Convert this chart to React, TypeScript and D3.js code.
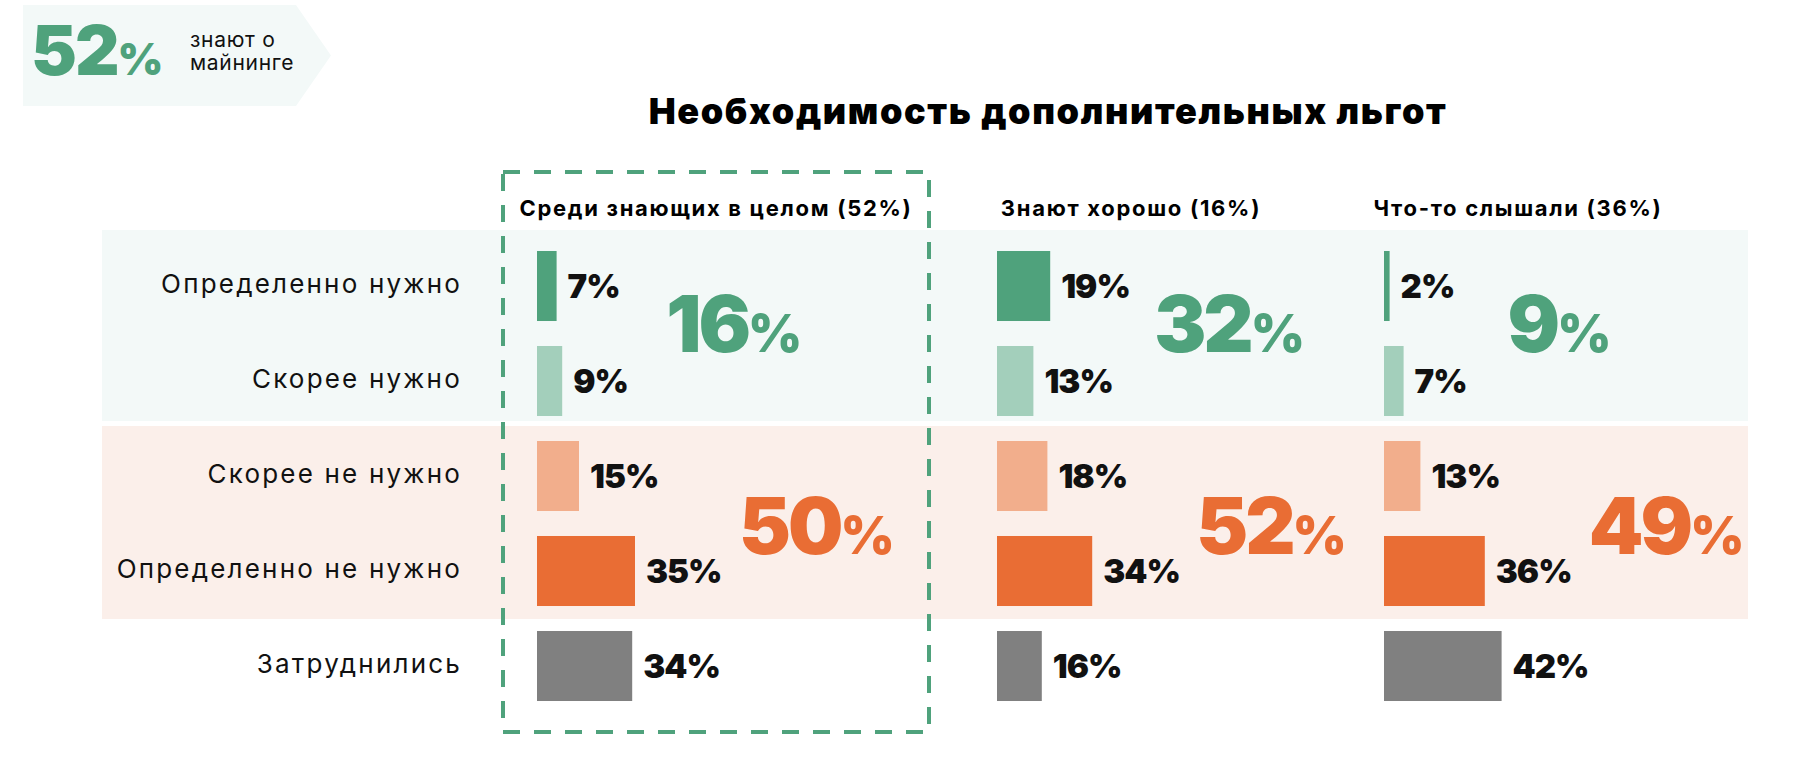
import React from 'react';
import * as d3 from 'd3';

// rows (answers) and columns (audience groups)
const rows = ['Определенно нужно', 'Скорее нужно', 'Скорее не нужно', 'Определенно не нужно', 'Затруднились'];
const columns = ['Среди знающих в целом (52%)', 'Знают хорошо (16%)', 'Что-то слышали (36%)'];

// shares per column, in row order
const valuesAll = [7, 9, 15, 35, 34];
const valuesGood = [19, 13, 18, 34, 16];
const valuesHeard = [2, 7, 13, 36, 42];
const seriesValues = [valuesAll, valuesGood, valuesHeard];

// sums: "нужно" (rows 0-1) and "не нужно" (rows 2-3)
const totalsNeed = [16, 32, 9];
const totalsNotNeed = [50, 52, 49];

const awareShare = 52;
const awareText = ['знают о', 'майнинге'];
const title = 'Необходимость дополнительных льгот';

const rowColors = ['#4fa27c', '#a3cfbb', '#f2ae8c', '#e96d34', '#808080'];
const GREEN = '#4fa27c';
const ORANGE = '#e96d34';

const W = 1806;
const H = 764;
const colX = [537, 997, 1384];
const heavy = 'Inter, Roboto, "DejaVu Sans", sans-serif';
const regular = 'Inter, "Noto Sans", sans-serif';

export default function App() {
  const x = d3.scaleLinear().domain([0, 100]).range([0, 280]);
  const y = d3.scaleBand<string>()
    .domain(rows)
    .range([238.5, 713.5])
    .paddingInner(0.263)
    .paddingOuter(0.1315);
  const bh = y.bandwidth();
  const yc = (i: number) => (y(rows[i]) as number) + bh / 2;

  const groups = [
    { rowsIdx: [0, 1], totals: totalsNeed, color: GREEN, bg: '#f3f9f8', pad: [21, 5], dy: -10 },
    { rowsIdx: [2, 3], totals: totalsNotNeed, color: ORANGE, bg: '#fbefea', pad: [15, 13], dy: 2 },
  ];

  return (
    <svg width={W} height={H} style={{ position: 'absolute', left: 0, top: 0, background: '#fff' }}>
      {/* badge */}
      <path d="M23,5 H296 L331,55.5 L296,106 H23 Z" fill="#f3f9f8" />
      <text x={31} y={75} fill={GREEN} fontFamily={heavy} fontWeight={900} fontSize={69} letterSpacing={-2}>
        {awareShare}
        <tspan fontSize={44}>%</tspan>
      </text>
      {awareText.map((t, i) => (
        <text key={t} x={190} y={47 + i * 23} fontFamily={regular} fontSize={21} letterSpacing={0.7} fill="#111">
          {t}
        </text>
      ))}

      {/* title */}
      <text
        x={1048}
        y={124}
        textAnchor="middle"
        fontFamily={heavy}
        fontWeight={900}
        fontSize={36}
        letterSpacing={1.6}
        fill="#000"
      >
        {title}
      </text>

      {/* group bands */}
      {groups.map((g, gi) => {
        const top = (y(rows[g.rowsIdx[0]]) as number) - g.pad[0];
        const bottom = (y(rows[g.rowsIdx[1]]) as number) + bh + g.pad[1];
        return <rect key={gi} x={102} width={1646} y={top} height={bottom - top} fill={g.bg} />;
      })}

      {/* highlight box */}
      <rect x={503} y={172} width={426} height={560} fill="none" stroke={GREEN} strokeWidth={4} strokeDasharray="17 14" />

      {/* column headers */}
      {columns.map((c, ci) => (
        <text
          key={c}
          x={ci === 0 ? 716 : colX[ci] + 134}
          y={208}
          dominantBaseline="central"
          textAnchor="middle"
          fontFamily={regular}
          fontWeight={700}
          fontSize={22}
          letterSpacing={1.7}
          fill="#000"
        >
          {c}
        </text>
      ))}

      {/* row labels */}
      {rows.map((r, i) => (
        <text
          key={r}
          x={462}
          y={yc(i) - 3}
          textAnchor="end"
          dominantBaseline="central"
          fontFamily={regular}
          fontSize={26}
          letterSpacing={2.2}
          fill="#111"
        >
          {r}
        </text>
      ))}

      {/* bars and value labels */}
      {seriesValues.map((vals, ci) => (
        <g key={ci} transform={`translate(${colX[ci]},0)`}>
          {vals.map((v, i) => (
            <g key={i}>
              <rect x={0} y={y(rows[i])} width={x(v)} height={bh} fill={rowColors[i]} />
              <text
                x={x(v) + 11}
                y={yc(i) + 12}
                fontFamily={heavy}
                fontWeight={900}
                fontSize={33}
                letterSpacing={-1}
                fill="#111"
              >
                {v}%
              </text>
            </g>
          ))}
        </g>
      ))}

      {/* totals */}
      {groups.map((g, gi) =>
        columns.map((_, ci) => {
          const vals = seriesValues[ci];
          const maxEnd = colX[ci] + x(d3.max(g.rowsIdx, (i) => vals[i]) as number);
          const mid = (yc(g.rowsIdx[0]) + yc(g.rowsIdx[1])) / 2 + g.dy;
          return (
            <text
              key={`${gi}-${ci}`}
              x={maxEnd + 104}
              y={mid + 28}
              fill={g.color}
              fontFamily={heavy}
              fontWeight={900}
              fontSize={78}
              letterSpacing={-3}
            >
              {g.totals[ci]}
              <tspan fontSize={52}>%</tspan>
            </text>
          );
        })
      )}
    </svg>
  );
}
